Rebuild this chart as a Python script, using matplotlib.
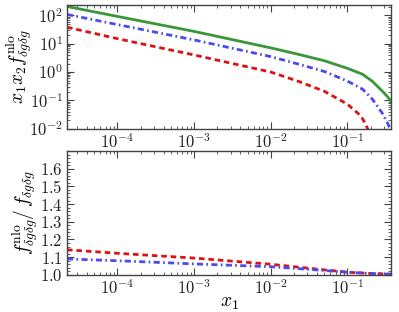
import matplotlib
matplotlib.use("Agg")
import matplotlib.pyplot as plt
import numpy as np
from matplotlib.ticker import FuncFormatter, MultipleLocator, LogLocator, NullFormatter

plt.rcParams['mathtext.fontset'] = 'cm'
plt.rcParams['font.family'] = ['DejaVu Serif']

# ---- data ----
x_nlo = [2.2e-5, 1e-4, 1e-3, 1e-2, 2.3e-2, 5e-2, 0.1, 0.157, 0.212, 0.286, 0.33, 0.36, 0.39]
green_nlo = [204, 91, 27, 7.1, 4.2, 2.5, 1.35, 0.84, 0.47, 0.21, 0.14, 0.105, 0.08]
blue_nlo = [107, 47, 13.5, 3.5, 1.9, 1.05, 0.48, 0.25, 0.11, 0.035, 0.017, 0.01, 0.005]

x_red = [2.2e-5, 1e-4, 1e-3, 1e-2, 2.3e-2, 5e-2, 0.1, 0.149, 0.17, 0.19, 0.22]
red_nlo = [38, 15, 4.0, 1.0, 0.47, 0.21, 0.074, 0.029, 0.016, 0.008, 0.002]

x_ratio = [2.2e-5, 1e-4, 1e-3, 1e-2, 3.2e-2, 1e-1, 0.2, 0.39]
red_ratio = [1.142, 1.122, 1.095, 1.060, 1.037, 1.015, 1.008, 1.004]
blue_ratio = [1.090, 1.080, 1.062, 1.046, 1.031, 1.015, 1.008, 1.003]

green_c = '#3a963a'
blue_c = '#4a4af5'
red_c = '#dd1111'

fig = plt.figure(figsize=(3.99, 3.12), dpi=100)
ax1 = fig.add_axes([0.168, 0.587, 0.812, 0.397])
ax2 = fig.add_axes([0.168, 0.119, 0.812, 0.397])

lw = 2.0
dashdot = (0, (2.2, 1.2, 0.6, 1.2))
dashed = (0, (2.0, 1.4))
ax1.plot(x_nlo, green_nlo, color=green_c, lw=lw, ls='-')
ax1.plot(x_nlo, blue_nlo, color=blue_c, lw=lw, ls=dashdot)
ax1.plot(x_red, red_nlo, color=red_c, lw=lw, ls=dashed)
ax1.set_xscale('log')
ax1.set_yscale('log')
ax1.set_xlim(2.2e-5, 0.37)
ax1.set_ylim(1e-2, 2.3e2)

ax2.plot(x_ratio, red_ratio, color=red_c, lw=lw, ls=dashed)
ax2.plot(x_ratio, blue_ratio, color=blue_c, lw=lw, ls=dashdot)
ax2.set_xscale('log')
ax2.set_xlim(2.2e-5, 0.37)
ax2.set_ylim(1.0, 1.7)
ax2.yaxis.set_major_locator(MultipleLocator(0.1))
ax2.yaxis.set_minor_locator(MultipleLocator(0.02))
ax2.yaxis.set_major_formatter(FuncFormatter(lambda v, p: r'$%.1f$' % v if v < 1.65 else ''))

logfmt = FuncFormatter(lambda v, p: r'$10^{%d}$' % int(round(np.log10(v))))

spine_c = '#444444'
for ax in (ax1, ax2):
    ax.xaxis.set_major_locator(LogLocator(base=10, numticks=20))
    ax.xaxis.set_minor_locator(LogLocator(base=10, subs=np.arange(2, 10), numticks=50))
    ax.xaxis.set_major_formatter(logfmt)
    ax.xaxis.set_minor_formatter(NullFormatter())
    ax.tick_params(which='both', direction='in', top=True, right=True, colors=spine_c,
                   labelcolor='#222222', labelsize=12)
    ax.tick_params(which='major', length=5, width=0.8, pad=3)
    ax.tick_params(which='minor', length=2.5, width=0.6)
    for s in ax.spines.values():
        s.set_color(spine_c)
        s.set_linewidth(1.0)

ax1.yaxis.set_major_locator(LogLocator(base=10, numticks=20))
ax1.yaxis.set_minor_locator(LogLocator(base=10, subs=np.arange(2, 10), numticks=50))
ax1.yaxis.set_major_formatter(logfmt)
ax1.yaxis.set_minor_formatter(NullFormatter())

ax1.set_ylabel(r'$x_1 x_2 f^{\rm nlo}_{\delta g\delta g}$', fontsize=14)
ax2.set_ylabel(r'$f^{\rm nlo}_{\delta g\delta g}/\,f_{\delta g\delta g}$', fontsize=14)
ax1.yaxis.set_label_coords(-0.102, 0.5)
ax2.yaxis.set_label_coords(-0.083, 0.5)
ax2.set_xlabel(r'$x_1$', fontsize=14, labelpad=-3)

fig.savefig('out.png', dpi=100)
